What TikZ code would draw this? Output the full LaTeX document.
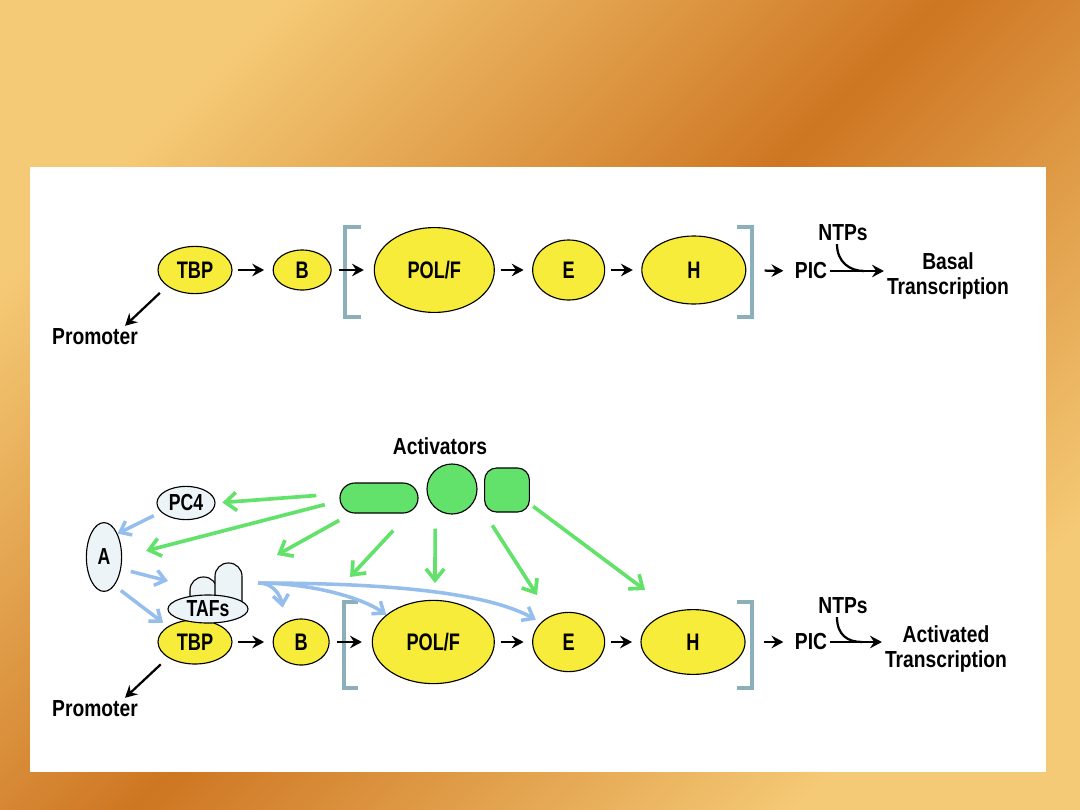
\documentclass[tikz,border=0pt]{standalone}
\usepackage{fontspec}
\setmainfont{Liberation Sans}
\newfontfamily\freefont[FakeStretch=0.83]{Liberation Sans}
\newfontfamily\ovalfont[FakeStretch=0.76]{Liberation Sans}
\usetikzlibrary{shapes.geometric, arrows, arrows.meta, positioning, calc}
\definecolor{tfyellow}{RGB}{248,236,58}
\definecolor{actgreen}{RGB}{98,226,106}
\definecolor{cofblue}{RGB}{150,190,236}
\definecolor{palefill}{RGB}{236,244,248}
\definecolor{bracketgray}{RGB}{140,176,186}
\definecolor{bglight}{RGB}{245,202,118}
\definecolor{bgdark}{RGB}{206,118,34}

\begin{document}
\begin{tikzpicture}[x=0.025cm, y=-0.025cm, >={Stealth[length=8.5pt,width=9pt,inset=3pt]},
    txt/.style={inner sep=2pt, font=\freefont\bfseries\fontsize{16.5}{17.5}\selectfont},
    factor/.style={draw, ellipse, fill=tfyellow, line width=0.8pt, inner sep=0pt, font=\ovalfont\bfseries\fontsize{17}{18}\selectfont},
    cofactor/.style={draw, ellipse, fill=palefill, line width=0.8pt, inner sep=0pt, font=\ovalfont\bfseries\fontsize{16.5}{18}\selectfont},
    activator/.style={draw, fill=actgreen, line width=0.8pt, inner sep=0pt},
    chainarrow/.style={->, line width=1.6pt, shorten <=4pt, shorten >=6pt},
    pointer/.style={->, line width=1.6pt},
    actarrow/.style={-{Straight Barb[length=8pt,width=13pt]}, actgreen, line width=2.6pt},
    cofarrow/.style={-{Straight Barb[length=7pt,width=11pt]}, cofblue, line width=2.5pt},
    bracket/.style={bracketgray, line width=2.2pt}]
      \useasboundingbox (0,0) rectangle (1080,810);
      \shade[bottom color=bglight, top color=bglight, middle color=bgdark, shading angle=45] (0,0) rectangle (1080,810);
      \fill[white] (30,167) rectangle (1046,772);

      % basal pathway
      \node [factor, minimum width=1.85cm, minimum height=1.18cm] (tbp) at (195,270) {TBP};
      \node [factor, minimum width=1.45cm, minimum height=1cm, right=1cm of tbp] (b) {B};
      \node [factor, minimum width=3cm, minimum height=2.12cm, right=1.05cm of b] (pol) {POL/F};
      \node [factor, minimum width=1.8cm, minimum height=1.5cm, right=0.93cm of pol] (e) {E};
      \node [factor, minimum width=2.6cm, minimum height=1.7cm, right=0.9cm of e] (h) {H};
      \node [txt] (promoter) at (95,337) {Promoter};
      \node [txt] (pic) at (811,271) {PIC};
      \node [txt] (ntps) at (843,233) {NTPs};
      \node [txt, align=center] (basal) at (948,276) {Basal\\Transcription};

      \draw [bracket] (361,227) -- (345,227) -- (345,317) -- (361,317);
      \draw [bracket] (737,227) -- (752,227) -- (752,317) -- (737,317);

      \draw [chainarrow] (tbp) -- (b);
      \draw [chainarrow, shorten <=5pt, shorten >=7pt] (b) -- (pol);
      \draw [chainarrow] (pol) -- (e);
      \draw [chainarrow] (e) -- (h);
      \draw [chainarrow, shorten <=13pt] (h) -- (pic);
      \draw [pointer] (pic.east) -- (pic.east -| basal.west);
      \draw [line width=1.6pt] ([xshift=-0.15cm]ntps.south) .. controls +(0,18) and +(-14,0) .. ($(pic.east -| basal.west)+(-0.5cm,0)$);
      \draw [pointer, shorten <=7pt] (tbp.210) -- ([xshift=0.75cm]promoter.north);

      % activated pathway
      \node [factor, minimum width=1.85cm, minimum height=1.1cm] (tbpa) at (195,642) {TBP};
      \node [factor, minimum width=1.4cm, minimum height=1.15cm, right=1cm of tbpa] (ba) {B};
      \node [factor, minimum width=3.05cm, minimum height=2.08cm, right=1.05cm of ba] (pola) {POL/F};
      \node [factor, minimum width=1.8cm, minimum height=1.48cm, right=0.93cm of pola] (ea) {E};
      \node [factor, minimum width=2.6cm, minimum height=1.62cm, right=0.88cm of ea] (ha) {H};
      \draw [cofactor] (190,602) [rounded corners=0.33cm] -- (190,577) -- (217,577) [sharp corners] -- (217,602);
      \draw [cofactor] (215,602) [rounded corners=0.33cm] -- (215,563) -- (242,563) [sharp corners] -- (242,602);
      \node [cofactor, minimum width=2cm, minimum height=0.7cm] (tafs) at (208,609) {TAFs};
      \node [cofactor, minimum width=1.45cm, minimum height=0.83cm] (pc4) at (186,503) {PC4};
      \node [cofactor, minimum width=0.88cm, minimum height=1.72cm] (a) at (104,557) {A};
      \node [txt] (promotera) at (95,709) {Promoter};
      \node [txt] (pica) at (811,642) {PIC};
      \node [txt] (ntpsa) at (843,606) {NTPs};
      \node [txt, align=center] (activated) at (946,649) {Activated\\Transcription};

      \node [txt] (activators) at (440,446) {Activators};
      \node [activator, rounded corners=0.375cm, minimum width=1.95cm, minimum height=0.75cm] (rod) at (379,498) {};
      \node [activator, circle, minimum size=1.25cm] (ball) at (452,489) {};
      \node [activator, rounded corners=0.3cm, minimum width=1.12cm, minimum height=1.1cm] (cube) at (507,490) {};

      \draw [bracket] (358,602) -- (344,602) -- (344,688) -- (358,688);
      \draw [bracket] (737,602) -- (752,602) -- (752,688) -- (737,688);

      \draw [chainarrow] (tbpa) -- (ba);
      \draw [chainarrow, shorten <=5pt, shorten >=7pt] (ba) -- (pola);
      \draw [chainarrow] (pola) -- (ea);
      \draw [chainarrow] (ea) -- (ha);
      \draw [chainarrow, shorten <=13pt] (ha) -- (pica);
      \draw [pointer] (pica.east) -- (pica.east -| activated.west);
      \draw [line width=1.6pt] ([xshift=-0.15cm]ntpsa.south) .. controls +(0,18) and +(-14,0) .. ($(pica.east -| activated.west)+(-0.5cm,0)$);
      \draw [pointer, shorten <=7pt] (tbpa.210) -- ([xshift=0.75cm]promotera.north);

      % activator contacts
      \coordinate (goaltaf) at (277,555);
      \coordinate (goalpol) at (350,577);
      \coordinate (goalmid) at (435,583);
      \coordinate (goale) at (537,595);
      \coordinate (goalh) at (645,590);
      \draw [actarrow, shorten <=0.58cm, shorten >=0.17cm] ([yshift=3pt]rod.west) -- (pc4.east);
      \draw [actarrow, shorten <=0.38cm, shorten >=0.62cm] ([yshift=-2pt]rod.west) -- (a.east);
      \draw [actarrow, shorten <=0.35cm] ([xshift=0.3cm]rod.south west) -- (goaltaf);
      \draw [actarrow, shorten <=0.58cm] ([xshift=0.75cm]rod.south) -- (goalpol);
      \draw [actarrow, shorten <=0.35cm] ([xshift=-0.42cm]ball.south) -- (goalmid);
      \draw [actarrow, shorten <=0.38cm] (cube.south west) -- (goale);
      \draw [actarrow, shorten <=0.1cm] ([yshift=-0.35cm]cube.east) -- (goalh);

      % coactivator contacts
      \coordinate (tafin) at (168,581);
      \coordinate (tafout) at (258,583);
      \draw [cofarrow, shorten <=0.2cm] (pc4.200) -- (a.60);
      \draw [cofarrow, shorten <=0.25cm] (a.-35) -- (tafin);
      \draw [cofarrow, shorten <=0.2cm, shorten >=0.15cm] (a.-70) -- (tbpa.150);
      \draw [cofarrow, shorten >=0.38cm] (tafout) .. controls +(20,0) and +(-3,-20) .. (ba.130);
      \draw [cofarrow] (tafout) .. controls +(50,0) and +(-25,-18) .. (pola.150);
      \draw [cofarrow, shorten >=4pt] (tafout) .. controls +(160,0) and +(-45,-25) .. (ea.145);
    \end{tikzpicture}
\end{document}
